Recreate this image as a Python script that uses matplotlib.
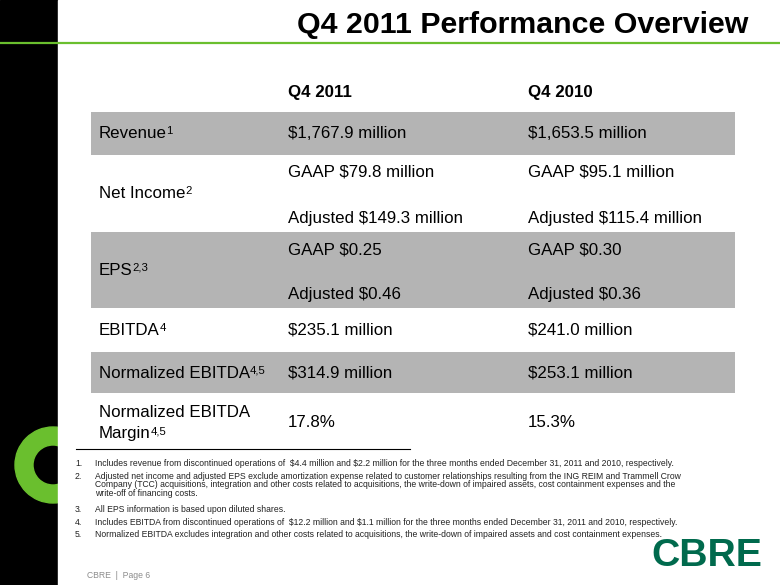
import matplotlib.pyplot as plt
from matplotlib.patches import Rectangle, Wedge

plt.rcParams['font.family'] = ['Liberation Sans', 'DejaVu Sans']
plt.rcParams['text.parse_math'] = False

# table content
title = "Q4 2011 Performance Overview"
col_heads = ["Q4 2011", "Q4 2010"]
row_labels = [["Revenue"], ["Net Income"], ["EPS"], ["EBITDA"], ["Normalized EBITDA"],
              ["Normalized EBITDA", "Margin"]]
row_sups = ["1", "2", "2,3", "4", "4,5", "4,5"]
q4_2011 = [["$1,767.9 million"],
           ["GAAP $79.8 million", "Adjusted $149.3 million"],
           ["GAAP $0.25", "Adjusted $0.46"],
           ["$235.1 million"],
           ["$314.9 million"],
           ["17.8%"]]
q4_2010 = [["$1,653.5 million"],
           ["GAAP $95.1 million", "Adjusted $115.4 million"],
           ["GAAP $0.30", "Adjusted $0.36"],
           ["$241.0 million"],
           ["$253.1 million"],
           ["15.3%"]]
footnotes = [
    ["Includes revenue from discontinued operations of  $4.4 million and $2.2 million for the three months ended December 31, 2011 and 2010, respectively."],
    ["Adjusted net income and adjusted EPS exclude amortization expense related to customer relationships resulting from the ING REIM and Trammell Crow",
     "Company (TCC) acquisitions, integration and other costs related to acquisitions, the write-down of impaired assets, cost containment expenses and the",
     "write-off of financing costs."],
    ["All EPS information is based upon diluted shares."],
    ["Includes EBITDA from discontinued operations of  $12.2 million and $1.1 million for the three months ended December 31, 2011 and 2010, respectively."],
    ["Normalized EBITDA excludes integration and other costs related to acquisitions, the write-down of impaired assets and cost containment expenses."],
]

# layout (pixels)
row_edges = [112, 155, 232, 308, 352, 393, 446]
note_y = [466, 479, 512, 525, 537]
gray = "#b4b4b4"
green = "#6abf2e"
fs = 12.2

fig = plt.figure(figsize=(7.8, 5.85), dpi=100)
ax = fig.add_axes([0, 0, 1, 1])
ax.set_xlim(0, 780)
ax.set_ylim(585, 0)
ax.axis('off')

# left black bar with the green ring
ax.add_patch(Rectangle((0, 0), 58, 585, color='black', zorder=0))
ax.add_patch(Wedge((53, 465), 38, 0, 360, width=18, color=green, zorder=1))
ax.add_patch(Rectangle((58, 0), 722, 585, color='white', zorder=2))
ax.plot([0, 780], [43, 43], color=green, lw=1.6, zorder=3)

ax.text(748, 33, title, ha='right', va='baseline', fontsize=21.9,
        fontweight='bold', zorder=4)

# header
for x, h in zip([288, 528], col_heads):
    ax.text(x, 97, h, ha='left', va='baseline', fontsize=fs, fontweight='bold', zorder=4)

fig.canvas.draw()
renderer = fig.canvas.get_renderer()
inv = ax.transData.inverted()

for i, lab in enumerate(row_labels):
    y0, y1 = row_edges[i], row_edges[i + 1]
    if i % 2 == 0:
        ax.add_patch(Rectangle((91, y0), 644, y1 - y0, color=gray, zorder=3, lw=0))
    yc = (y0 + y1) / 2
    if len(lab) == 1:
        ys = [yc]
    else:
        ys = [412, 433]
        yc = 422
    for k, line in enumerate(lab):
        t = ax.text(99, ys[k] + 5, line, ha='left', va='baseline', fontsize=fs, zorder=4)
    # superscript after the last line of the label
    bb = t.get_window_extent(renderer)
    xr = inv.transform((bb.x1, 0))[0]
    ax.text(xr - 0.5, ys[-1] + 1, row_sups[i], ha='left', va='baseline',
            fontsize=8.2, zorder=4)

    for x, vals in zip([288, 528], [q4_2011[i], q4_2010[i]]):
        if len(vals) == 1:
            ax.text(x, yc + 5, vals[0], ha='left', va='baseline', fontsize=fs, zorder=4)
        else:
            ax.text(x, y0 + 22, vals[0], ha='left', va='baseline', fontsize=fs, zorder=4)
            ax.text(x, y1 - 9, vals[1], ha='left', va='baseline', fontsize=fs, zorder=4)

# footnote rule and notes
ax.plot([76, 410], [449, 449], color='black', lw=0.8, zorder=4)
for n, (note, y) in enumerate(zip(footnotes, note_y), start=1):
    ax.text(75, y, f"{n}.", ha='left', va='baseline', fontsize=6.2, color='#222222', zorder=4)
    for k, line in enumerate(note):
        ax.text(95, y + k * 8.3, line, ha='left', va='baseline', fontsize=6.2,
                color='#222222', zorder=4)

ax.text(87, 578, "CBRE  |  Page 6", ha='left', va='baseline', fontsize=6.2,
        color='#8c8c8c', zorder=4)
ax.text(651, 566, "CBRE", ha='left', va='baseline', fontsize=28.3,
        fontweight='bold', color='#006a4d', zorder=4)

fig.savefig("out.png", dpi=100)
